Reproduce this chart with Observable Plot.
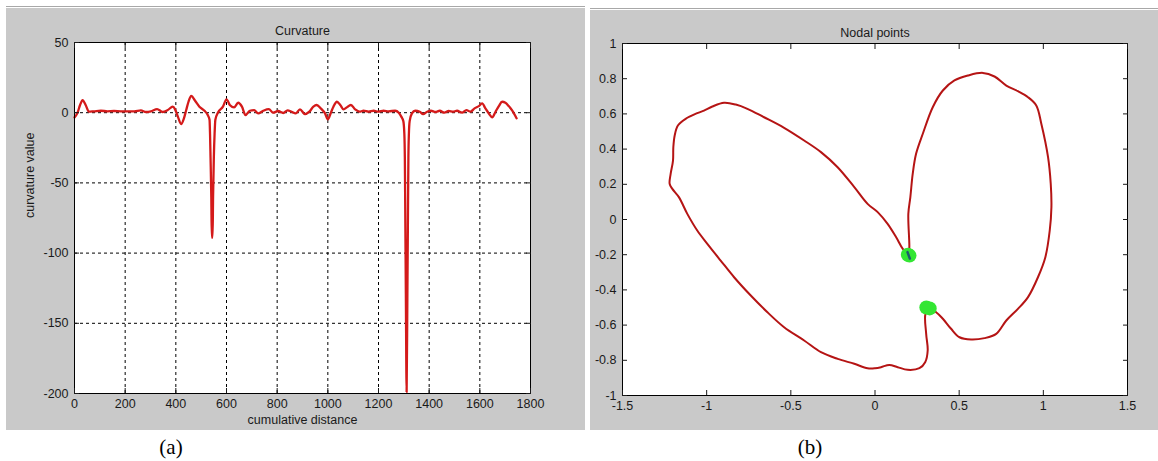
<!DOCTYPE html>
<html>
<head>
<meta charset="utf-8">
<script src="https://cdn.jsdelivr.net/npm/d3@7"></script>
<script src="https://cdn.jsdelivr.net/npm/@observablehq/plot@0.6"></script>
<style>
  html, body { margin: 0; padding: 0; background: #ffffff; }
  #root { position: relative; width: 1158px; height: 461px; overflow: hidden; background: #fff;
          font-family: "Liberation Sans", Arial, sans-serif; }
  .topline { position: absolute; height: 1px; background: #a8a8a8; }
  .panel { position: absolute; background: #c9c9c9; }
  .panel svg { display: block; }
  .cap { position: absolute; font-family: "Liberation Serif", "Times New Roman", serif; font-size: 21px;
         color: #000; transform: translate(-50%, -50%); white-space: nowrap; }
</style>
</head>
<body>
<div id="root">
  <div class="topline" style="left:6px;top:6px;width:579px"></div>
  <div class="panel" id="panelA" style="left:6px;top:8px;width:579px;height:422px"></div>
  <div class="topline" style="left:590px;top:8px;width:568px"></div>
  <div class="panel" id="panelB" style="left:590px;top:10px;width:568px;height:420px"></div>
  <div class="cap" style="left:171px;top:447px">(a)</div>
  <div class="cap" style="left:810px;top:447px">(b)</div>
</div>
<script>
// ---------- Panel (a): Curvature ----------
const curvDist = [0, 11, 22, 32, 44, 57, 77, 104, 130, 156, 183, 209, 236, 262, 282, 302, 326, 348, 368, 388, 397, 408, 421, 432, 441, 450, 461, 476, 493, 513, 526,
  533, 535, 537, 540, 542, 545, 547, 550, 553, 556,
  566, 586, 600, 613, 630, 646, 661, 675, 692, 709, 725, 745, 767, 784, 804, 824, 841, 857, 873, 890, 910, 927, 943, 956, 972, 989, 1000, 1012, 1022, 1036, 1049, 1062, 1075, 1091, 1108, 1125, 1141, 1161, 1181, 1200, 1220, 1240, 1266, 1280, 1290,
  1298, 1302, 1304, 1306, 1308, 1311, 1314, 1316, 1318, 1320, 1323,
  1332, 1345, 1363, 1376, 1392, 1407, 1425, 1442, 1460, 1477, 1494, 1510, 1530, 1547, 1563, 1579, 1596, 1609, 1622, 1635, 1649, 1662, 1675, 1688, 1701, 1714, 1728, 1745];
const curvValue = [-3.3, -0.5, 5.5, 9.0, 5.5, 0.7, 1, 1.4, 1, 1.2, 1, 1, 1, 1.7, 0.5, 1, 2.6, 0.5, 1.9, 4.3, 2.4, -2.8, -8.1, -4, 1.9, 7.8, 11.9, 8.5, 4.3, 1.4, -1.7,
  -5, -15, -32, -60, -89, -89, -60, -32, -15, -5,
  0, 4.3, 9.5, 5.5, 3.8, 7.1, 4.3, -1.7, 1.4, 1.9, -0.5, 1.4, 2.6, 0, 1.2, -0.2, 1.7, 0.7, -0.5, 2.4, -1, 0.7, 4.3, 5.5, 3.1, -0.5, -4.7, 0, 4.3, 7.8, 5.5, 2.4, 3.8, 5.5, 2.4, 0.7, 1.4, 0.7, 1.4, 0.7, 1.4, 1, 1.4, 0, -2.8,
  -6, -15, -32, -80, -129, -199, -129, -80, -32, -15, -6,
  -0.5, 1.4, 0.7, -1, 0.7, 1.4, 0.5, 1.4, 0, 1.2, 0.7, 1.4, 0, 1.9, 0.7, 3.1, 4.7, 6.6, 3.1, -0.5, -3.3, 0.7, 4.7, 7.8, 7.1, 4.7, 1.4, -4];
const xTicksA = [0, 200, 400, 600, 800, 1000, 1200, 1400, 1600, 1800];
const yTicksA = [50, 0, -50, -100, -150, -200];
const xGridA = [200, 400, 600, 800, 1000, 1200, 1400, 1600];
const yGridA = [0, -50, -100, -150];
const titleA = "Curvature";
const xLabelA = "cumulative distance";
const yLabelA = "curvature value";

// ---------- Panel (b): Nodal points ----------
const contourX = [0.200, 0.204, 0.198, 0.21, 0.224, 0.244, 0.284, 0.343, 0.403, 0.472, 0.552, 0.641, 0.71, 0.78, 0.849, 0.909, 0.958, 0.988, 1.028, 1.044, 1.048, 1.038, 1.012, 0.968, 0.909, 0.849, 0.78, 0.72, 0.651, 0.571, 0.502, 0.452, 0.403, 0.363, 0.323,
  0.3, 0.304, 0.313, 0.298, 0.264, 0.194, 0.135, 0.085, 0.036, 0.0, -0.044, -0.123, -0.222, -0.321, -0.421, -0.54, -0.639, -0.738, -0.837, -0.917, -0.996, -1.056, -1.115, -1.165, -1.204, -1.22,
  -1.214, -1.2, -1.198, -1.19, -1.171, -1.125, -1.056, -1.016, -0.966, -0.897, -0.827, -0.758, -0.659, -0.54, -0.421, -0.321, -0.222, -0.123, -0.044, 0.016, 0.075, 0.125, 0.165, 0.200];
const contourY = [-0.201, -0.157, 0.032, 0.127, 0.259, 0.373, 0.487, 0.638, 0.733, 0.79, 0.818, 0.833, 0.8125, 0.761, 0.729, 0.695, 0.648, 0.544, 0.354, 0.203, 0.070, -0.0625, -0.214, -0.328, -0.441, -0.508, -0.574, -0.65, -0.674, -0.682, -0.669, -0.621, -0.564, -0.527, -0.508,
  -0.536, -0.65, -0.744, -0.811, -0.845, -0.854, -0.839, -0.826, -0.839, -0.845, -0.845, -0.82, -0.792, -0.754, -0.6875, -0.612, -0.527, -0.432, -0.328, -0.233, -0.138, -0.0625, 0.032, 0.127, 0.174, 0.203,
  0.259, 0.335, 0.411, 0.477, 0.534, 0.572, 0.604, 0.619, 0.642, 0.663, 0.653, 0.629, 0.581, 0.521, 0.449, 0.383, 0.297, 0.184, 0.089, 0.042, -0.025, -0.1, -0.167, -0.201];
const nodeX = [0.195, 0.205, 0.305, 0.325];
const nodeY = [-0.200, -0.205, -0.500, -0.505];
const nodeMarkX = [0.193, 0.207];
const nodeMarkY = [-0.185, -0.222];
const xTicksB = [-1.5, -1, -0.5, 0, 0.5, 1, 1.5];
const yTicksB = [1, 0.8, 0.6, 0.4, 0.2, 0, -0.2, -0.4, -0.6, -0.8, -1];
const titleB = "Nodal points";

// ---------- helpers ----------
const fmt = d => String(Math.round(d * 10) / 10);
const blank = () => "";
const style = {background: "transparent", fontFamily: "'Liberation Sans', Arial, sans-serif", fontSize: "12.5px", color: "#1a1a1a", overflow: "visible"};

function boxAxes(xt, yt) {
  return [
    Plot.axisX(xt, {anchor: "bottom", tickSize: -5, tickPadding: 11, tickFormat: fmt, label: null}),
    Plot.axisX(xt, {anchor: "top", tickSize: -5, tickFormat: blank, label: null}),
    Plot.axisY(yt, {anchor: "left", tickSize: -5, tickPadding: 11, tickFormat: fmt, label: null}),
    Plot.axisY(yt, {anchor: "right", tickSize: -5, tickFormat: blank, label: null})
  ];
}

const curvData = curvDist.map((d, i) => ({d, v: curvValue[i]}));
const plotA = Plot.plot({
  width: 579, height: 422,
  marginLeft: 68, marginTop: 34, marginRight: 55, marginBottom: 37,
  style,
  x: {domain: [0, 1800]},
  y: {domain: [-200, 50]},
  marks: [
    Plot.frame({fill: "white", stroke: null}),
    Plot.gridX(xGridA, {stroke: "#000", strokeOpacity: 1, strokeDasharray: "3,3"}),
    Plot.gridY(yGridA, {stroke: "#000", strokeOpacity: 1, strokeDasharray: "3,3"}),
    Plot.line(curvData, {x: "d", y: "v", stroke: "#d41a1a", strokeWidth: 2.3, curve: "monotone-x"}),
    Plot.frame({stroke: "#000", strokeWidth: 1}),
    ...boxAxes(xTicksA, yTicksA),
    Plot.text([titleA], {frameAnchor: "top", dy: -16, text: d => d}),
    Plot.text([xLabelA], {frameAnchor: "bottom", dy: 30, text: d => d}),
    Plot.text([yLabelA], {frameAnchor: "left", dx: -45, rotate: -90, text: d => d})
  ]
});
document.getElementById("panelA").appendChild(plotA);

const contour = contourX.map((x, i) => ({x, y: contourY[i]}));
const nodes = nodeX.map((x, i) => ({x, y: nodeY[i]}));
const nodeMark = nodeMarkX.map((x, i) => ({x, y: nodeMarkY[i]}));
const plotB = Plot.plot({
  width: 568, height: 420,
  marginLeft: 32, marginTop: 33, marginRight: 31, marginBottom: 35,
  style,
  x: {domain: [-1.5, 1.5]},
  y: {domain: [-1, 1]},
  marks: [
    Plot.frame({fill: "white", stroke: null}),
    Plot.line(contour, {x: "x", y: "y", stroke: "#b51414", strokeWidth: 2, curve: "catmull-rom"}),
    Plot.dot(nodes, {x: "x", y: "y", r: 7, fill: "#33e633", stroke: null}),
    Plot.line(nodeMark, {x: "x", y: "y", stroke: "#1d5c6e", strokeWidth: 2.5}),
    Plot.frame({stroke: "#000", strokeWidth: 1}),
    ...boxAxes(xTicksB, yTicksB),
    Plot.text([titleB], {frameAnchor: "top", dy: -15, text: d => d})
  ]
});
document.getElementById("panelB").appendChild(plotB);
</script>
</body>
</html>
